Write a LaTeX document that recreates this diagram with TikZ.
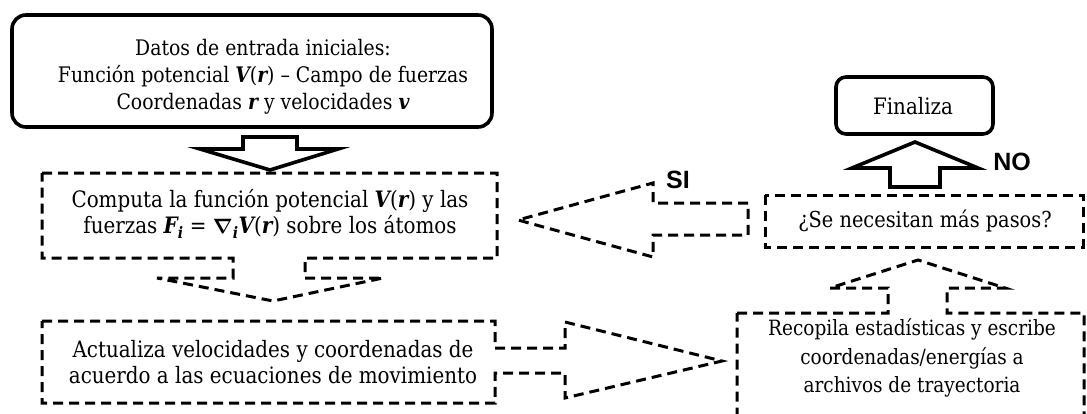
\documentclass[tikz,border=0pt]{standalone}
\usepackage{amsmath}
\usepackage{bm}
\usepackage{fontspec}
\setmainfont{DejaVu Serif}[FakeStretch=0.88]
\newfontfamily\lblfont{Liberation Sans}
\newcommand{\mth}[1]{{\bfseries\itshape #1}}
\tikzset{
  solidshape/.style={draw=black, line width=3.6pt, fill=white, line join=miter},
  dashshape/.style={draw=black, line width=3pt, dash pattern=on 10pt off 6pt, line join=miter},
  txt/.style={align=center, font=\fontsize{22.6}{26.5}\selectfont, inner sep=0pt},
  toptxt/.style={align=center, font=\fontsize{21.4}{27}\selectfont, inner sep=0pt},
  lbl/.style={font=\lblfont\bfseries\fontsize{25}{25}\selectfont, inner sep=0pt}
}
\begin{document}
\begin{tikzpicture}[x=1pt,y=-1pt]
\useasboundingbox (0,0) rectangle (1087,413);
\begin{scope}
\clip (0,0) rectangle (1087,413);
% top input box
\draw[solidshape, rounded corners=14pt] (12,15) rectangle (492,127);
\node[toptxt] (inicio) at (263,77) {Datos de entrada iniciales:\\
Función potencial \mth{V}(\mth{r}) – Campo de fuerzas\\
Coordenadas \mth{r} y velocidades \mth{v}};
% solid down arrow
\draw[solidshape] (243,137) -- (297,137) -- (297,149) -- (338,149) -- (270,170) -- (200,149) -- (243,149) -- cycle;
% computa box merged with down arrow
\draw[dashshape] (42,173) -- (497,173) -- (497,258) -- (305,258) -- (305,278) -- (383,278) -- (273,301) -- (157,278) -- (233,278) -- (233,258) -- (42,258) -- cycle;
\node[txt] (computa) at (270,214) {Computa la función potencial \mth{V}(\mth{r}) y las\\
fuerzas \mth{F\textsubscript{i}} = $\bm{\nabla}$\mth{\textsubscript{i}V}(\mth{r}) sobre los átomos};
% actualiza box merged with right arrow
\draw[dashshape] (42,321) -- (495,321) -- (495,348) -- (565,348) -- (565,322) -- (722,361) -- (565,398) -- (565,373) -- (495,373) -- (495,403) -- (42,403) -- cycle;
\node[txt] (actualiza) at (273,362) {Actualiza velocidades y coordenadas de\\
acuerdo a las ecuaciones de movimiento};
% recopila box merged with up arrow
\draw[dashshape] (737,313) -- (888,313) -- (888,288) -- (830,288) -- (918,260) -- (1005,288) -- (947,288) -- (947,313) -- (1084,313) -- (1084,425) -- (737,425) -- cycle;
\node[txt, font=\fontsize{21}{28.5}\selectfont] (recopila) at (912,358) {Recopila estadísticas y escribe\\
coordenadas/energías a\\
archivos de trayectoria};
% se necesitan box
\draw[dashshape] (765,195) rectangle (1083,247);
\node[txt, font=\fontsize{22}{26}\selectfont] (pasos) at (925,221) {¿Se necesitan más pasos?};
% SI arrow
\draw[dashshape] (748,203) -- (653,203) -- (653,183) -- (518,220) -- (653,257) -- (653,235) -- (748,235) -- cycle;
\node[lbl] (si) at (678,180) {SI};
% NO arrow
\draw[solidshape] (890,187) -- (890,168) -- (852,168) -- (915,142) -- (978,168) -- (940,168) -- (940,187) -- cycle;
\node[lbl] (no) at (1012,162) {NO};
% finaliza
\draw[solidshape, rounded corners=10pt] (836,77) rectangle (993,134);
\node[txt] (fin) at (913,106) {Finaliza};
\end{scope}
\end{tikzpicture}
\end{document}
